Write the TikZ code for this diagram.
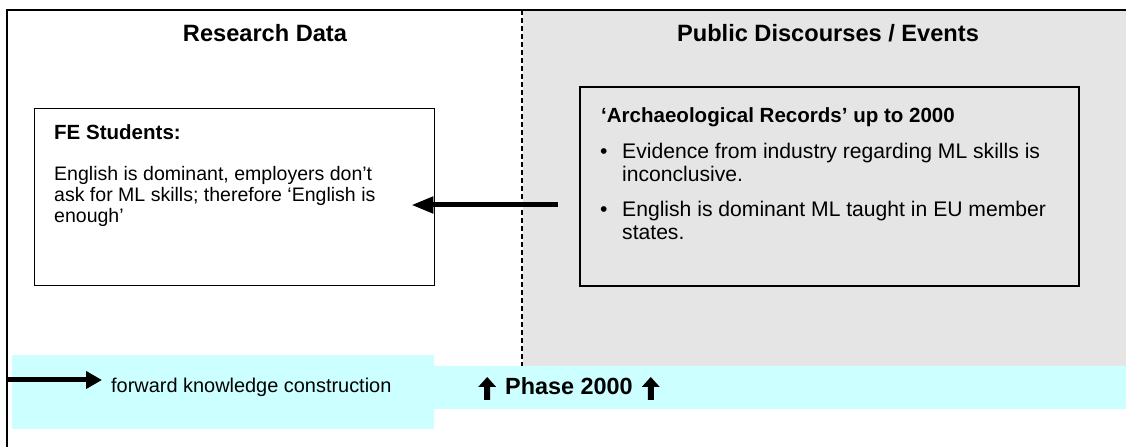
\documentclass[tikz,border=0pt]{standalone}
\usepackage{fontspec}
\setmainfont{Liberation Sans}
\usetikzlibrary{arrows.meta,positioning}

\definecolor{panelgrey}{HTML}{E5E5E5}
\definecolor{phasecyan}{HTML}{CCFFFF}

\newcommand{\phasearrow}{\tikz[x=1bp,y=1bp,baseline=0pt]\fill (5.5,-5) -- (11.5,-5) -- (11.5,8) -- (17.5,8) -- (8.5,18) -- (-0.5,8) -- (5.5,8) -- cycle;}

\begin{document}
\begin{tikzpicture}[
        x=1bp, y=-1bp,
        every node/.style={inner sep=0pt, anchor=base west},
        heading/.style={font=\bfseries\fontsize{23.7}{28}\selectfont, anchor=base},
        boxtitle/.style={font=\bfseries\fontsize{20.6}{24}\selectfont},
        febody/.style={font=\fontsize{19.6}{21.5}\selectfont, align=left},
        archbody/.style={font=\fontsize{21.2}{23.5}\selectfont, align=left},
        box/.style={draw, anchor=north west},
        flow/.style={line width=5bp, -{Triangle[length=22bp,width=16bp]}},
        legendflow/.style={line width=5bp, -{Triangle[length=16bp,width=17bp]}}
    ]

    \useasboundingbox (0,0) rectangle (1126,447);

    % Background
    \fill[panelgrey] (523,10) rectangle (1126,366);
    \fill[phasecyan] (12,355) rectangle (434,429);
    \fill[phasecyan] (434,366) rectangle (1126,409);
    \draw[line width=2bp] (1126,10) -- (7,10) -- (7,447);
    \draw[line width=1.8bp, dash pattern=on 5bp off 3bp] (522,10) -- (522,366);

    % Nodes (multi-line texts are placed by their last baseline)
    \node[heading] (rdata) at (265,42) {Research Data};
    \node[heading] (pdisc) at (828,42) {Public Discourses / Events};

    \node[box, fill=white, line width=1.4bp, minimum width=400bp, minimum height=177bp] (fe) at (34,108) {};
    \node[boxtitle] (fetitle) at (54,140) {FE Students:};
    \node[febody] (fetext) at (54,223) {English is dominant, employers don’t\\
        ask for ML skills; therefore ‘English is\\
        enough’};

    \node[box, line width=2bp, minimum width=499bp, minimum height=199bp] (arch) at (579,86) {};
    \node[boxtitle] (archtitle) at (601,123) {‘Archaeological Records’ up to 2000};
    \node[archbody] (archtext) at (600,240) {\makebox[22bp][l]{\textbullet}Evidence from industry regarding ML skills is\\
        \hspace*{22bp}inconclusive.\\[11.5bp]
        \makebox[22bp][l]{\textbullet}English is dominant ML taught in EU member\\
        \hspace*{22bp}states.};

    \node[font=\fontsize{20}{24}\selectfont] (fwd) at (111,393) {forward knowledge construction};
    \node[font=\bfseries\fontsize{23.5}{28}\selectfont] (phase) at (478,395) {\phasearrow\hspace{9bp}Phase 2000\hspace{9bp}\phasearrow};

    \coordinate (flowy) at (0,205);
    \coordinate (legstart) at (8,380);

    % Edges
    \draw[flow, shorten <=21bp, shorten >=-24bp] (arch.west |- flowy) -- (fe.east |- flowy);
    \draw[legendflow, shorten >=9bp] (legstart) -- (fwd.west |- legstart);

\end{tikzpicture}
\end{document}
